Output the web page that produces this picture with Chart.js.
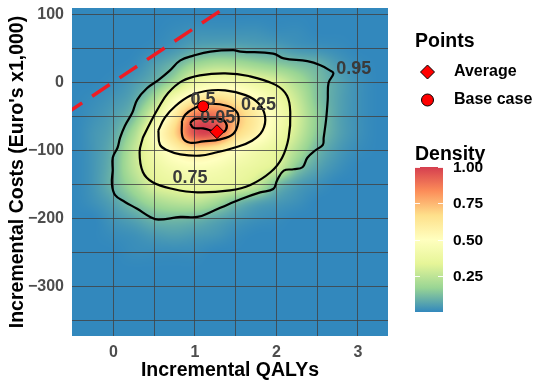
<!DOCTYPE html>
<html>
<head>
<meta charset="utf-8">
<script src="https://cdn.jsdelivr.net/npm/chart.js@4.4.1/dist/chart.umd.min.js"></script>
<style>
  html, body { margin: 0; padding: 0; background: #fff; }
  #chart { display: block; }
</style>
</head>
<body>
<canvas id="chart" width="537" height="380"></canvas>
<script>
// Axis grid values
const xTicks = [0, 0.5, 1, 1.5, 2, 2.5, 3];
const yTicks = [-350, -300, -250, -200, -150, -100, -50, 0, 50, 100];

// Density grid (normalised)
const densityX = [-0.5, -0.25, 0, 0.25, 0.5, 0.75, 1, 1.25, 1.5, 1.75, 2, 2.25, 2.5, 2.75, 3, 3.25, 3.5];
const densityY = [100, 75, 50, 25, 0, -25, -50, -75, -100, -125, -150, -175, -200, -225, -250, -275, -300, -325, -350, -375];
const density = [
  [0, 0,    0,    0,    0,    0,    0,    0,    0,    0,    0,    0,    0,    0,    0,    0, 0],
  [0, 0,    0,    0,    0,    0.01, 0.02, 0.02, 0.02, 0.02, 0.01, 0.01, 0,    0,    0,    0, 0],
  [0, 0,    0,    0,    0.01, 0.03, 0.06, 0.07, 0.07, 0.06, 0.05, 0.03, 0.02, 0.01, 0,    0, 0],
  [0, 0,    0,    0.01, 0.05, 0.1,  0.18, 0.22, 0.21, 0.18, 0.15, 0.12, 0.09, 0.04, 0.01, 0, 0],
  [0, 0,    0.01, 0.04, 0.09, 0.2,  0.37, 0.43, 0.42, 0.37, 0.31, 0.21, 0.12, 0.06, 0.02, 0, 0],
  [0, 0.01, 0.03, 0.07, 0.2,  0.45, 0.6,  0.68, 0.62, 0.52, 0.4,  0.27, 0.13, 0.06, 0.02, 0, 0],
  [0, 0.02, 0.05, 0.12, 0.34, 0.6,  0.88, 0.9,  0.74, 0.6,  0.45, 0.3,  0.15, 0.06, 0.02, 0, 0],
  [0, 0.03, 0.07, 0.2,  0.46, 0.68, 0.96, 0.95, 0.7,  0.57, 0.42, 0.28, 0.14, 0.06, 0.02, 0, 0],
  [0, 0.03, 0.09, 0.25, 0.42, 0.55, 0.64, 0.6,  0.5,  0.42, 0.35, 0.22, 0.1,  0.04, 0.01, 0, 0],
  [0, 0.03, 0.1,  0.25, 0.37, 0.44, 0.47, 0.45, 0.4,  0.36, 0.3,  0.14, 0.06, 0.02, 0,    0, 0],
  [0, 0.03, 0.1,  0.2,  0.32, 0.36, 0.38, 0.37, 0.34, 0.27, 0.12, 0.05, 0.02, 0,    0,    0, 0],
  [0, 0.02, 0.06, 0.13, 0.2,  0.24, 0.25, 0.2,  0.12, 0.07, 0.04, 0.02, 0,    0,    0,    0, 0],
  [0, 0,    0.03, 0.06, 0.1,  0.11, 0.1,  0.07, 0.04, 0.02, 0.01, 0,    0,    0,    0,    0, 0],
  [0, 0,    0.01, 0.02, 0.04, 0.05, 0.04, 0.03, 0.01, 0,    0,    0,    0,    0,    0,    0, 0],
  [0, 0,    0,    0.01, 0.01, 0.01, 0.01, 0,    0,    0,    0,    0,    0,    0,    0,    0, 0],
  [0, 0,    0,    0,    0,    0,    0,    0,    0,    0,    0,    0,    0,    0,    0,    0, 0],
  [0, 0,    0,    0,    0,    0,    0,    0,    0,    0,    0,    0,    0,    0,    0,    0, 0],
  [0, 0,    0,    0,    0,    0,    0,    0,    0,    0,    0,    0,    0,    0,    0,    0, 0],
  [0, 0,    0,    0,    0,    0,    0,    0,    0,    0,    0,    0,    0,    0,    0,    0, 0],
  [0, 0,    0,    0,    0,    0,    0,    0,    0,    0,    0,    0,    0,    0,    0,    0, 0]
];

// Contour lines [QALY, cost]
const contour95 = [[-0.01,-129.5],[-0.02,-150],[0.02,-166],[0.14,-176],[0.29,-186],[0.45,-198],[0.55,-202],[0.82,-198],[1.03,-198],[1.19,-191],[1.40,-180],[1.56,-172],[1.80,-162],[1.96,-157],[2.01,-144],[2.09,-130],[2.21,-128],[2.32,-125],[2.38,-111],[2.48,-100],[2.57,-92],[2.58,-82],[2.61,-55],[2.63,-26],[2.64,-1],[2.70,13],[2.66,17],[2.54,25],[2.38,31],[2.09,35],[1.96,42],[1.56,45],[1.47,47],[1.19,45],[0.98,39],[0.82,32],[0.69,17],[0.55,3],[0.41,-9],[0.29,-26],[0.23,-45],[0.14,-64],[0.08,-82],[0.05,-96],[-0.01,-111],[-0.01,-129.5]];
const contour75 = [[0.36,-81.5],[0.32,-103],[0.36,-132],[0.48,-147],[0.73,-157],[1.03,-162],[1.43,-159],[1.68,-151],[1.93,-132],[2.07,-111],[2.15,-81.5],[2.17,-45],[2.13,-20],[1.99,-4],[1.66,9],[1.37,13],[1.06,10],[0.84,1.5],[0.67,-16],[0.55,-38],[0.45,-60],[0.36,-81.5]];
const contour50 = [[0.55,-71],[0.57,-92],[0.66,-100],[0.82,-106],[1.06,-108],[1.27,-103],[1.49,-96],[1.70,-86],[1.83,-71],[1.86,-50],[1.78,-31],[1.62,-19],[1.37,-12],[1.13,-13],[0.94,-20],[0.76,-35],[0.63,-52],[0.55,-71]];
const contour25 = [[0.84,-57],[0.85,-81.5],[0.94,-89],[1.10,-87],[1.31,-84],[1.47,-76],[1.53,-60],[1.52,-45],[1.40,-35],[1.15,-32],[0.98,-39],[0.88,-48],[0.84,-57]];
const contour05 = [[0.94,-60],[0.98,-67],[1.10,-68],[1.31,-74],[1.38,-70],[1.38,-60],[1.31,-54],[1.13,-54],[1.00,-54],[0.94,-60]];

// Contour labels
const contourLabels = ['0.95', '0.75', '0.5', '0.25', '0.05'];
const labelX = [2.95, 0.94, 1.10, 1.78, 1.28];
const labelY = [19, -141, -26, -33, -52];

// Points
const averagePoint = { x: 1.27, y: -72.8 };
const baseCasePoint = { x: 1.10, y: -35.4 };

// Willingness-to-pay line (dashed)
const wtpX = [-0.6, 1.4];
const wtpY = [-47.5, 112];

// Colour bar
const densityTicks = [0.25, 0.5, 0.75, 1.0];
const palette = ['#3288BD', '#99D594', '#E6F598', '#FFFFBF', '#FEE08B', '#FC8D59', '#D53E4F'];

const FONT = "'Liberation Sans', Arial, Helvetica, sans-serif";

function hexToRgb(h) {
    const n = parseInt(h.slice(1), 16);
    return [(n >> 16) & 255, (n >> 8) & 255, n & 255];
}
const paletteRgb = palette.map(hexToRgb);

function colourFor(v) {
    v = Math.max(0, Math.min(1, v));
    const p = v * (paletteRgb.length - 1);
    const i = Math.min(Math.floor(p), paletteRgb.length - 2);
    const t = p - i;
    const a = paletteRgb[i], b = paletteRgb[i + 1];
    return [a[0] + (b[0] - a[0]) * t, a[1] + (b[1] - a[1]) * t, a[2] + (b[2] - a[2]) * t];
}

function gridAt(r, c) {
    r = Math.max(0, Math.min(density.length - 1, r));
    c = Math.max(0, Math.min(densityX.length - 1, c));
    return density[r][c];
}

function cubic(p0, p1, p2, p3, t) {
    return p1 + 0.5 * t * (p2 - p0 + t * (2 * p0 - 5 * p1 + 4 * p2 - p3 + t * (3 * (p1 - p2) + p3 - p0)));
}

// smooth lookup of the density grid
function sampleDensity(xv, yv) {
    const fx = (xv - densityX[0]) / (densityX[1] - densityX[0]);
    const fy = (yv - densityY[0]) / (densityY[1] - densityY[0]);
    const c = Math.floor(fx), r = Math.floor(fy);
    const tx = fx - c, ty = fy - r;
    const rows = [];
    for (let k = -1; k <= 2; k++) {
        rows.push(cubic(gridAt(r + k, c - 1), gridAt(r + k, c), gridAt(r + k, c + 1), gridAt(r + k, c + 2), tx));
    }
    return cubic(rows[0], rows[1], rows[2], rows[3], ty);
}

let densityImage = null;

const densityPlugin = {
    id: 'densityRaster',
    beforeDraw(chart) {
        const area = chart.chartArea;
        const xs = chart.scales.x, ys = chart.scales.y;
        const w = Math.round(area.right - area.left), h = Math.round(area.bottom - area.top);
        if (!densityImage) {
            densityImage = document.createElement('canvas');
            densityImage.width = w;
            densityImage.height = h;
            const octx = densityImage.getContext('2d');
            const img = octx.createImageData(w, h);
            for (let j = 0; j < h; j++) {
                const yv = ys.getValueForPixel(area.top + j + 0.5);
                for (let i = 0; i < w; i++) {
                    const xv = xs.getValueForPixel(area.left + i + 0.5);
                    const col = colourFor(sampleDensity(xv, yv));
                    const k = (j * w + i) * 4;
                    img.data[k] = col[0];
                    img.data[k + 1] = col[1];
                    img.data[k + 2] = col[2];
                    img.data[k + 3] = 255;
                }
            }
            octx.putImageData(img, 0, 0);
        }
        chart.ctx.drawImage(densityImage, area.left, area.top);
    }
};

// contour labels go on top of the lines, under the points
const labelPlugin = {
    id: 'contourLabels',
    afterDatasetDraw(chart, args) {
        if (args.index !== 2) return;
        const ctx = chart.ctx;
        const xs = chart.scales.x, ys = chart.scales.y;
        ctx.save();
        ctx.font = 'bold 18px ' + FONT;
        ctx.fillStyle = '#3a3a3a';
        ctx.textAlign = 'center';
        ctx.textBaseline = 'middle';
        contourLabels.forEach((txt, i) => {
            ctx.fillText(txt, xs.getPixelForValue(labelX[i]), ys.getPixelForValue(labelY[i]));
        });
        ctx.restore();
    }
};

const legendPlugin = {
    id: 'sideLegend',
    afterDraw(chart) {
        const ctx = chart.ctx;
        ctx.save();
        ctx.fillStyle = '#000';
        ctx.textAlign = 'left';
        ctx.textBaseline = 'alphabetic';
        ctx.font = 'bold 19.5px ' + FONT;
        ctx.fillText('Points', 415, 47);
        ctx.fillText('Density', 415, 160);

        // diamond
        ctx.fillStyle = '#ff0000';
        ctx.strokeStyle = '#000';
        ctx.lineWidth = 1;
        ctx.beginPath();
        ctx.moveTo(427.5, 65);
        ctx.lineTo(434.5, 72);
        ctx.lineTo(427.5, 79);
        ctx.lineTo(420.5, 72);
        ctx.closePath();
        ctx.fill();
        ctx.stroke();
        // circle
        ctx.beginPath();
        ctx.arc(427.5, 100, 6, 0, Math.PI * 2);
        ctx.fill();
        ctx.stroke();

        ctx.fillStyle = '#000';
        ctx.font = 'bold 16px ' + FONT;
        ctx.textBaseline = 'middle';
        ctx.fillText('Average', 454, 72);
        ctx.fillText('Base case', 454, 100);

        // colour bar
        const barLeft = 415, barW = 28, barTop = 167, barBottom = 312;
        const grad = ctx.createLinearGradient(0, barBottom, 0, barTop);
        palette.forEach((c, i) => grad.addColorStop(i / (palette.length - 1), c));
        ctx.fillStyle = grad;
        ctx.fillRect(barLeft, barTop, barW, barBottom - barTop);

        ctx.strokeStyle = 'rgba(255,255,255,0.9)';
        ctx.lineWidth = 1;
        ctx.fillStyle = '#000';
        ctx.font = 'bold 15.5px ' + FONT;
        densityTicks.forEach(v => {
            const y = Math.round(barBottom - v * (barBottom - barTop)) + 0.5;
            ctx.beginPath();
            ctx.moveTo(barLeft, y);
            ctx.lineTo(barLeft + 5, y);
            ctx.moveTo(barLeft + barW - 5, y);
            ctx.lineTo(barLeft + barW, y);
            ctx.stroke();
            ctx.fillText(v.toFixed(2), 453, y);
        });
        ctx.restore();
    }
};

const toPoints = arr => arr.map(p => ({ x: p[0], y: p[1] }));

function contourDataset(arr) {
    return {
        data: toPoints(arr),
        showLine: true,
        tension: 0.4,
        borderColor: '#000',
        borderWidth: 2.2,
        pointRadius: 0,
        fill: false
    };
}

const gridStyle = { color: 'rgba(65,65,65,0.8)', lineWidth: 1, drawTicks: false };
const tickFont = { family: FONT, weight: 'bold', size: 16 };
const titleFont = { family: FONT, weight: 'bold', size: 19.5 };

const ctx = document.getElementById('chart').getContext('2d');
new Chart(ctx, {
    type: 'scatter',
    data: {
        datasets: [
            { label: 'Base case', data: [baseCasePoint], pointStyle: 'circle', pointRadius: 5.5, backgroundColor: '#ff0000', borderColor: '#000', borderWidth: 1 },
            { label: 'Average', data: [averagePoint], pointStyle: 'rectRot', pointRadius: 7, backgroundColor: '#ff0000', borderColor: '#000', borderWidth: 1 },
            contourDataset(contour05),
            contourDataset(contour25),
            contourDataset(contour50),
            contourDataset(contour75),
            contourDataset(contour95),
            {
                data: wtpX.map((x, i) => ({ x: x, y: wtpY[i] })),
                showLine: true,
                borderColor: '#ee1c24',
                borderWidth: 3.5,
                borderDash: [21, 12],
                pointRadius: 0
            }
        ]
    },
    options: {
        responsive: false,
        animation: false,
        events: [],
        layout: { padding: { left: 0, top: 4, right: 149, bottom: 0 } },
        plugins: { legend: { display: false }, tooltip: { enabled: false } },
        scales: {
            x: {
                type: 'linear',
                min: -0.51,
                max: 3.37,
                afterBuildTicks: s => { s.ticks = xTicks.map(v => ({ value: v })); },
                afterFit: s => { s.height = 44; s.paddingLeft = 0; s.paddingRight = 0; },
                grid: gridStyle,
                border: { display: false },
                ticks: {
                    autoSkip: false, maxRotation: 0, padding: 7,
                    font: tickFont, color: '#4d4d4d',
                    callback: v => Number.isInteger(v) ? String(v) : ''
                },
                title: { display: true, text: 'Incremental QALYs', font: titleFont, color: '#000', padding: { top: 0, bottom: -2 } }
            },
            y: {
                type: 'linear',
                min: -373,
                max: 109,
                afterBuildTicks: s => { s.ticks = yTicks.map(v => ({ value: v })); },
                afterFit: s => { s.width = 72; s.paddingTop = 0; s.paddingBottom = 0; },
                grid: gridStyle,
                border: { display: false },
                ticks: {
                    autoSkip: false, padding: 8,
                    font: tickFont, color: '#4d4d4d',
                    callback: v => v % 100 === 0 ? (v < 0 ? '\u2212' + Math.abs(v) : String(v)) : ''
                },
                title: { display: true, text: "Incremental Costs (Euro's x1,000)", font: titleFont, color: '#000', padding: { top: 6, bottom: 0 } }
            }
        }
    },
    plugins: [densityPlugin, labelPlugin, legendPlugin]
});
</script>
</body>
</html>
